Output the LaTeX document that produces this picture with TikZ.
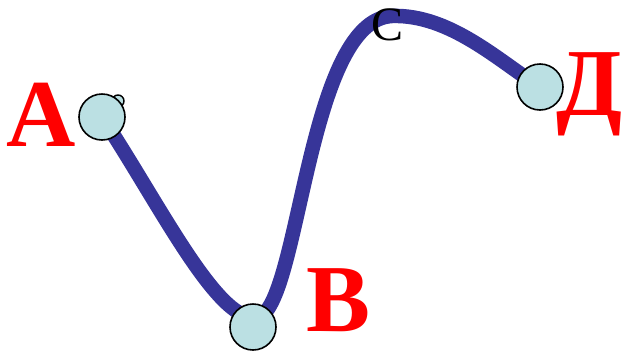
\documentclass[tikz,border=0pt]{standalone}
\usepackage{fontspec}
\setmainfont{Liberation Serif}
\definecolor{curveblue}{RGB}{55,53,153}
\definecolor{dotfill}{RGB}{187,224,227}
\definecolor{labred}{RGB}{255,0,0}
\begin{document}
\begin{tikzpicture}[x=1pt,y=-1pt,
  dot/.style={circle,draw=black,line width=1.6pt,fill=dotfill,minimum size=46pt,inner sep=0pt},
  smalldot/.style={circle,draw=black,line width=1.4pt,fill=dotfill,minimum size=12pt,inner sep=0pt},
  biglabel/.style={text=labred,font=\fontsize{96}{96}\selectfont\bfseries,inner sep=0pt,anchor=base},
  clabel/.style={text=black,font=\fontsize{48}{48}\selectfont,inner sep=0pt,anchor=base}]
\useasboundingbox (0,0) rectangle (623,354);
\coordinate (pA) at (102,117);
\coordinate (pB) at (255,318);
\coordinate (pC) at (392,16);
\coordinate (pD) at (540,87);
\draw[curveblue,line width=14.5pt,line cap=round]
  (pA) .. controls (160,205) and (215,318) .. (pB)
       .. controls (300,318) and (305,20) .. (pC)
       .. controls (450,14) and (500,62) .. (pD);
\node[smalldot] (s) at (118,101) {};
\node[dot] (A) at (102,117) {};
\node[dot] (B) at (253,327) {};
\node[dot] (D) at (540,87) {};
\node[biglabel] (LA) at (41,146) {А};
\node[biglabel] (LB) at (339,331) {В};
\node[biglabel] (LD) at (590,115) {Д};
\node[clabel] (LC) at (388,40) {С};
\end{tikzpicture}
\end{document}
